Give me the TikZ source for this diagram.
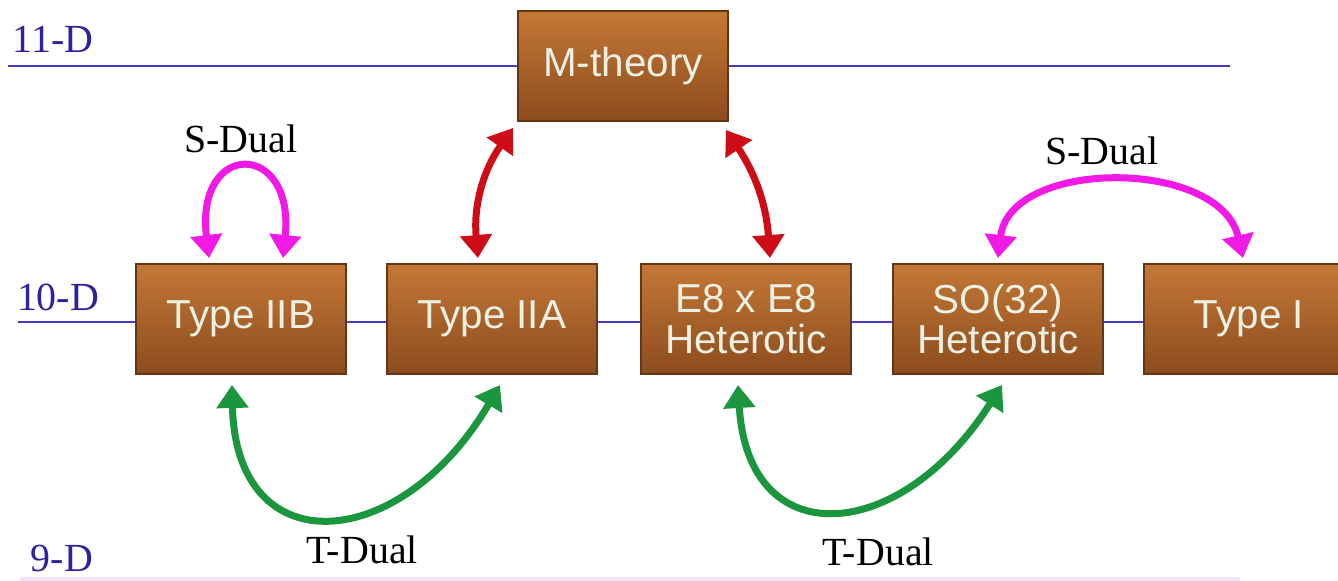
\documentclass[tikz,border=0pt]{standalone}
\usepackage{fontspec}
\setmainfont{Liberation Serif}
\newfontfamily\boxfont{Liberation Sans}
\usetikzlibrary{arrows.meta,positioning}

\definecolor{dimline}{RGB}{70,60,200}
\definecolor{dimtext}{RGB}{45,35,160}
\definecolor{ninedline}{RGB}{238,230,252}
\definecolor{woodtop}{RGB}{196,120,54}
\definecolor{woodmid}{RGB}{176,100,40}
\definecolor{woodbot}{RGB}{140,76,30}
\definecolor{woodedge}{RGB}{100,54,22}
\definecolor{woodtext}{RGB}{236,240,226}
\definecolor{spink}{RGB}{240,25,230}
\definecolor{mred}{RGB}{205,12,22}
\definecolor{tgreen}{RGB}{28,150,62}

\begin{document}
\begin{tikzpicture}[x=0.02cm,y=-0.02cm,
  woodbox/.style={draw=woodedge, line width=0.04cm, top color=woodtop, middle color=woodmid, bottom color=woodbot,
    minimum width=4.2cm, minimum height=2.2cm, inner sep=0pt, text=woodtext, align=center,
    font=\boxfont\fontsize{23}{23}\selectfont},
  dimlabel/.style={text=dimtext, inner sep=0pt, font=\fontsize{22.7}{24}\selectfont},
  duallabel/.style={text=black, inner sep=0pt, font=\fontsize{22.7}{24}\selectfont},
  dualarrow/.style={line width=0.14cm, line cap=round,
    {Triangle[width=0.62cm,length=0.46cm]}-{Triangle[width=0.62cm,length=0.46cm]}}]
\useasboundingbox (0,0) rectangle (1338,581);
\clip (0,0) rectangle (1338,581);

\draw[dimline, line width=0.05cm] (8,66) -- (1230,66);
\draw[dimline, line width=0.04cm] (18,322) -- (1143,322);
\draw[ninedline, line width=0.08cm] (20,579) -- (1240,579);

\node[dimlabel] (d11) at (53,39) {11-D};
\node[dimlabel] (d10) at (58,297) {10-D};
\node[dimlabel] (d9) at (62,558) {9-D};

\node[woodbox] (M) at (623,66) {M-theory};
\node[woodbox] (IIB) at (241,319) {Type IIB};
\node[woodbox] (IIA) at (492,319) {Type IIA};
\node[woodbox] (E8) at (746,319) {E8 x E8\\Heterotic};
\node[woodbox] (SO) at (998,319) {SO(32)\\Heterotic};
\node[woodbox] (I) at (1249,319) {Type I};

\node[duallabel] (sleft) at (241,139) {S-Dual};
\node[duallabel] (sright) at (1102,151) {S-Dual};
\node[duallabel] (tleft) at (362,550) {T-Dual};
\node[duallabel] (tright) at (878,552) {T-Dual};

\draw[dualarrow, spink] ([shift={(-32,-5)}]IIB.north) .. controls +(-14,-118) and +(12,-118) .. ([shift={(42,-5)}]IIB.north);
\draw[dualarrow, spink] ([shift={(0,-5)}]SO.north) .. controls +(12,-100) and +(-23,-100) .. ([shift={(-6,-5)}]I.north);
\draw[dualarrow, mred] ([shift={(-14,-5)}]IIA.north) to[bend left=20] ([shift={(-4,6)}]M.south west);
\draw[dualarrow, mred] ([shift={(-3,8)}]M.south east) to[bend left=15] ([shift={(24,-5)}]E8.north);
\draw[dualarrow, tgreen] ([shift={(-9,10)}]IIB.south) .. controls +(4,180) and +(-100,170) .. ([shift={(8,10)}]IIA.south);
\draw[dualarrow, tgreen] ([shift={(-8,10)}]E8.south) .. controls +(10,170) and +(-102,160) .. ([shift={(4,10)}]SO.south);
\end{tikzpicture}
\end{document}
